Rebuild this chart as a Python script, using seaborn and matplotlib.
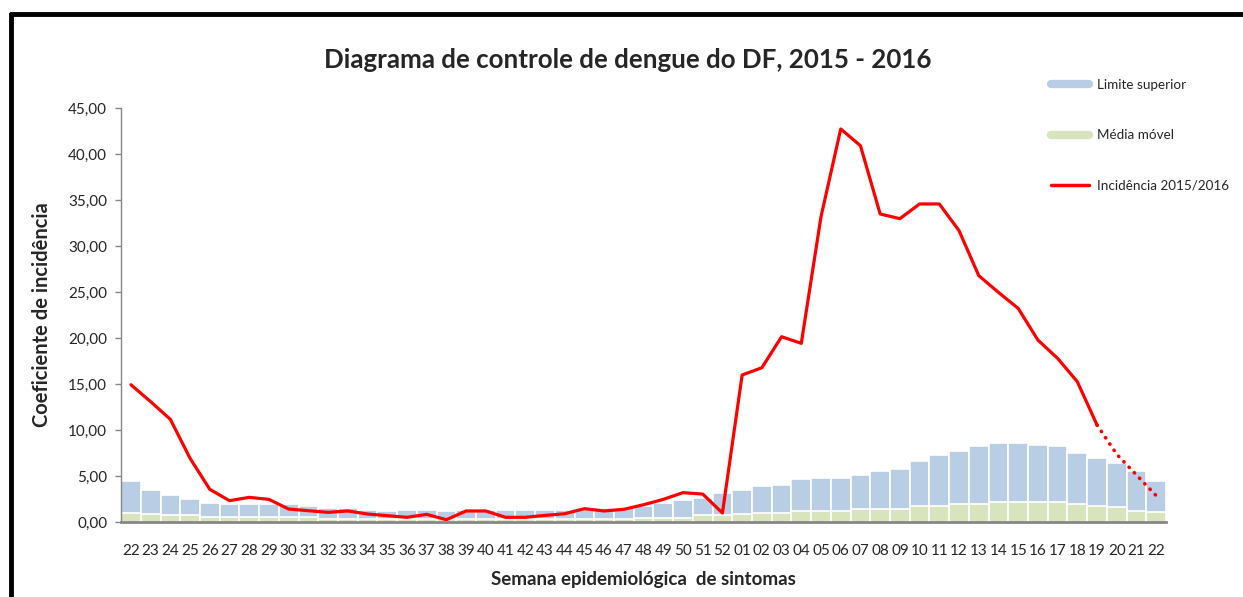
import numpy as np
import pandas as pd
import seaborn as sns
import matplotlib.pyplot as plt
from matplotlib.lines import Line2D
from matplotlib.ticker import FuncFormatter, MultipleLocator

# semanas epidemiologicas (2015: 22-52, 2016: 01-22)
semanas = ['22', '23', '24', '25', '26', '27', '28', '29', '30', '31', '32',
           '33', '34', '35', '36', '37', '38', '39', '40', '41', '42', '43',
           '44', '45', '46', '47', '48', '49', '50', '51', '52',
           '01', '02', '03', '04', '05', '06', '07', '08', '09', '10', '11',
           '12', '13', '14', '15', '16', '17', '18', '19', '20', '21', '22']

limite_superior = [4.42, 3.51, 2.97, 2.46, 2.07, 1.92, 1.92, 1.92, 1.92, 1.74, 1.52,
                   1.52, 1.34, 1.20, 1.34, 1.34, 1.20, 1.34, 1.34, 1.34, 1.34, 1.34,
                   1.34, 1.48, 1.48, 1.48, 1.78, 2.10, 2.43, 2.65, 3.15,
                   3.51, 3.88, 4.06, 4.64, 4.82, 4.82, 5.14, 5.51, 5.73, 6.59, 7.32,
                   7.72, 8.22, 8.59, 8.59, 8.41, 8.26, 7.50, 6.96, 6.41, 5.54, 4.42]

media_movel = [1.01, 0.83, 0.72, 0.72, 0.51, 0.51, 0.51, 0.51, 0.51, 0.51, 0.36,
               0.36, 0.33, 0.33, 0.33, 0.33, 0.33, 0.33, 0.33, 0.33, 0.33, 0.33,
               0.33, 0.33, 0.33, 0.33, 0.47, 0.47, 0.47, 0.80, 0.80,
               0.83, 1.01, 1.01, 1.20, 1.20, 1.20, 1.38, 1.38, 1.38, 1.78, 1.78,
               1.96, 1.96, 2.17, 2.17, 2.17, 2.17, 1.96, 1.78, 1.63, 1.23, 1.09]

incidencia = [14.92, 13.08, 11.16, 6.92, 3.55, 2.32, 2.68, 2.46, 1.41, 1.23, 1.05,
              1.20, 0.87, 0.69, 0.51, 0.83, 0.25, 1.20, 1.20, 0.51, 0.51, 0.72,
              0.90, 1.45, 1.20, 1.38, 1.88, 2.46, 3.19, 3.04, 0.98,
              15.98, 16.77, 20.14, 19.42, 33.19, 42.72, 40.90, 33.48, 32.97, 34.57, 34.57,
              31.67, 26.78, 24.96, 23.22, 19.78, 17.79, 15.25, 10.54, 7.36, 5.11, 2.86]

# a partir da semana 19/2016 os dados sao parciais (linha pontilhada)
inicio_parcial = 49

df = pd.DataFrame({'pos': np.arange(len(semanas)),
                   'limite': limite_superior,
                   'media': media_movel,
                   'incid': incidencia})

sns.set_style('white')
plt.rcParams['font.family'] = ['Lato', 'DejaVu Sans']

azul = '#B9CDE5'
verde = '#D7E4BD'
vermelho = '#FF0000'

fig = plt.figure(figsize=(12.43, 5.97), dpi=100)
ax = fig.add_axes([0.0974, 0.1256, 0.8407, 0.6935])

sns.barplot(data=df, x='pos', y='limite', color=azul, width=1.0, saturation=1,
            edgecolor='white', linewidth=1.2, ax=ax)
sns.barplot(data=df, x='pos', y='media', color=verde, width=1.0, saturation=1,
            edgecolor='white', linewidth=1.2, ax=ax)

solido = df[df['pos'] <= inicio_parcial]
parcial = df[df['pos'] >= inicio_parcial]
sns.lineplot(data=solido, x='pos', y='incid', color=vermelho, linewidth=2.3, ax=ax)
sns.lineplot(data=parcial, x='pos', y='incid', color=vermelho, linewidth=2.6,
             linestyle=(0, (0.1, 2.0)), dash_capstyle='round', ax=ax)

ax.set_xlim(-0.5, len(semanas) - 0.5)
ax.set_ylim(0, 45)
ax.yaxis.set_major_locator(MultipleLocator(5))
ax.yaxis.set_major_formatter(FuncFormatter(lambda v, p: f'{v:.2f}'.replace('.', ',')))
ax.set_xticks(range(len(semanas)))
ax.set_xticklabels(semanas)
ax.tick_params(axis='x', length=0, pad=16, labelsize=11)
ax.tick_params(axis='y', length=4, width=1, color='#868686', left=True,
               direction='out', pad=6, labelsize=11)

for s in ['top', 'right']:
    ax.spines[s].set_visible(False)
ax.spines['left'].set_color('#868686')
ax.spines['left'].set_linewidth(1)
ax.spines['bottom'].set_color('#868686')
ax.spines['bottom'].set_linewidth(2)

ax.set_xlabel('Semana epidemiológica  de sintomas', fontsize=13.5, fontweight='bold', labelpad=9)
ax.set_ylabel('Coeficiente de incidência', fontsize=14.5, fontweight='bold', labelpad=12)

fig.text(0.505, 0.9, 'Diagrama de controle de dengue do DF, 2015 - 2016',
         ha='center', va='center', fontsize=18.6, fontweight='bold')

handles = [Line2D([], [], color=azul, linewidth=6),
           Line2D([], [], color=verde, linewidth=6),
           Line2D([], [], color=vermelho, linewidth=2.5)]
labels = ['Limite superior', 'Média móvel', 'Incidência 2015/2016']
fig.legend(handles, labels, loc='upper left', bbox_to_anchor=(0.836, 0.888),
           frameon=False, fontsize=9.7, handlelength=2.8, handletextpad=0.6,
           labelspacing=2.85)

# moldura preta (so topo e lado esquerdo aparecem no recorte)
fig.add_artist(Line2D([0.0088, 1.0], [1 - 14 / 597, 1 - 14 / 597], color='black',
                      linewidth=3.5, transform=fig.transFigure))
fig.add_artist(Line2D([11 / 1243, 11 / 1243], [0.0, 1 - 14 / 597], color='black',
                      linewidth=3.5, transform=fig.transFigure))

fig.savefig('out.png', dpi=100)
